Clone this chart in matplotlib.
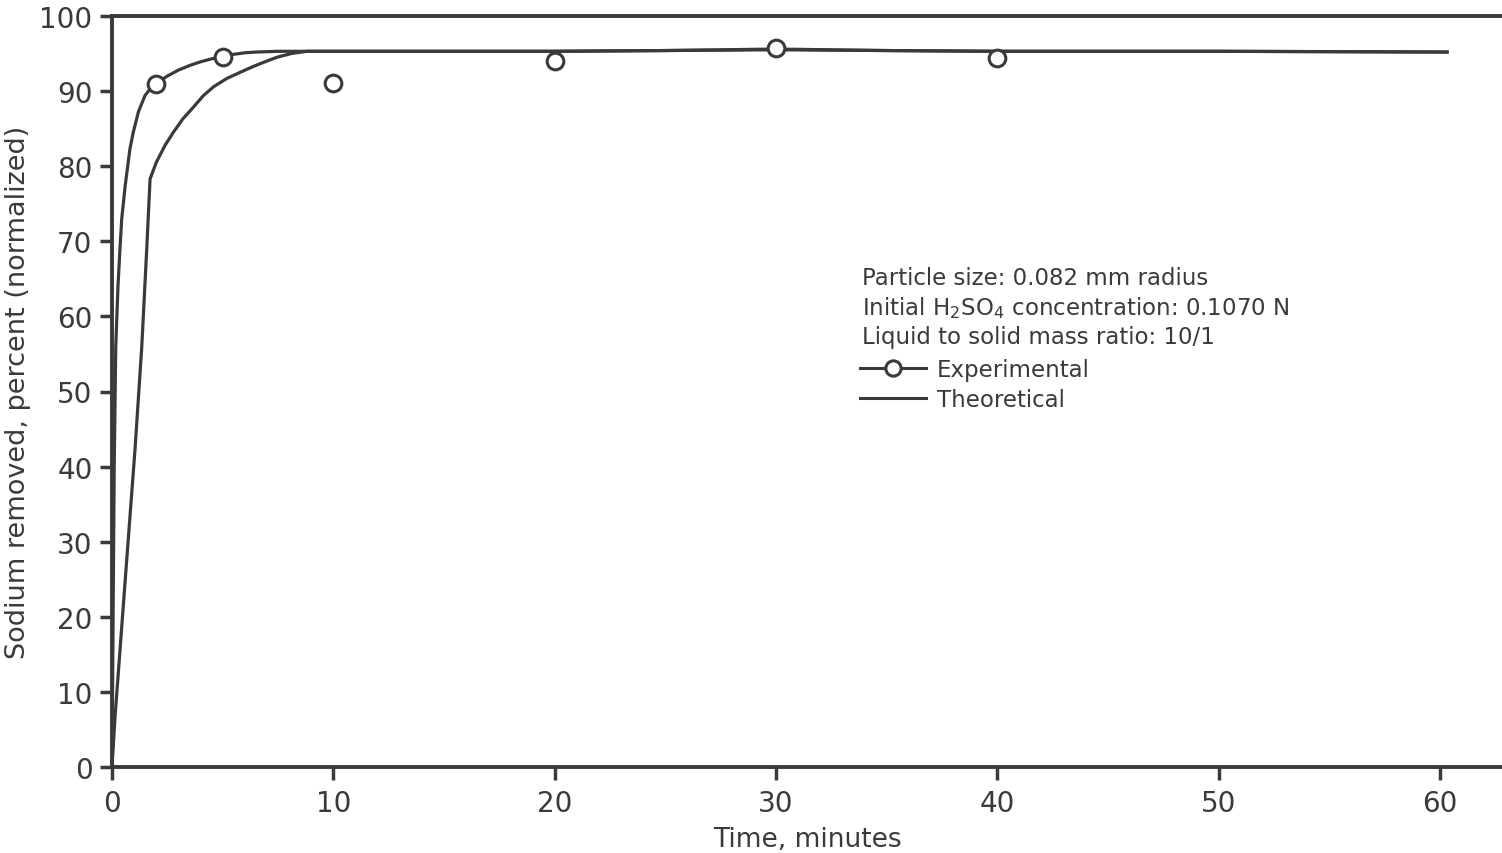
import matplotlib
matplotlib.use("Agg")
import matplotlib.pyplot as plt
from matplotlib.lines import Line2D

# measured sodium removal at each sampling time
exp_time = [2, 5, 10, 20, 30, 40]
exp_removed = [91.0, 94.6, 91.1, 94.0, 95.7, 94.4]

# smooth curve drawn through the experimental points
exp_curve_t = [0, 0.05, 0.10, 0.17, 0.27, 0.36, 0.44, 0.6, 0.81, 0.96, 1.2,
               1.49, 1.75, 2.0, 2.5, 3.0, 3.5, 4.0, 4.5, 5.0, 5.5, 6.0, 6.5,
               7.5, 10, 20, 25, 30, 35, 40, 50, 60.4]
exp_curve_y = [0, 20, 40, 56, 64, 69, 73, 77.5, 82.3, 84.5, 87.3,
               89.4, 90.4, 91.0, 92.0, 92.8, 93.4, 93.9, 94.3, 94.6, 94.9, 95.1, 95.2,
               95.3, 95.3, 95.3, 95.4, 95.6, 95.4, 95.3, 95.3, 95.2]

# model prediction
theo_t = [0, 0.14, 0.60, 1.04, 1.34, 1.57, 1.72, 2.0, 2.4, 2.77, 3.2, 3.6,
          4.13, 4.6, 5.2, 5.79, 6.4, 7.0, 7.45, 8.1, 8.8, 10, 20, 30, 40, 50, 60.4]
theo_y = [0, 6.8, 25, 42.3, 55.7, 69, 78.3, 80.5, 82.8, 84.5, 86.3, 87.6,
          89.4, 90.6, 91.7, 92.5, 93.3, 94.0, 94.5, 95.0, 95.3, 95.3, 95.3,
          95.5, 95.3, 95.3, 95.2]

x_ticks = [0, 10, 20, 30, 40, 50, 60]
y_ticks = [0, 10, 20, 30, 40, 50, 60, 70, 80, 90, 100]

ink = "#3a3a3a"
plt.rcParams["font.family"] = ["DejaVu Sans"]
plt.rcParams["text.color"] = ink

fig = plt.figure(figsize=(15.02, 8.54), dpi=100)
ax = fig.add_axes([112 / 1502, 1 - 768 / 854, 1 - 112 / 1502, (768 - 17) / 854])

ax.plot(theo_t, theo_y, color=ink, lw=2.3, solid_capstyle="butt")
ax.plot(exp_curve_t, exp_curve_y, color=ink, lw=2.3, solid_capstyle="butt")
ax.plot(exp_time, exp_removed, ls="none", marker="o", ms=12, mfc="white",
        mec=ink, mew=2.2, zorder=5)

ax.set_xlim(0, 1390 / 22.13)
ax.set_ylim(0, 100)
ax.set_xticks(x_ticks)
ax.set_yticks(y_ticks)
ax.tick_params(direction="out", length=9, width=2.5, color=ink,
               labelsize=20, labelcolor=ink, pad=5)
ax.tick_params(axis="x", pad=7)

for side in ["left", "bottom", "top"]:
    ax.spines[side].set_linewidth(2.8)
    ax.spines[side].set_color(ink)
ax.spines["right"].set_visible(False)

ax.set_xlabel("Time, minutes", fontsize=19, color=ink, labelpad=6)
ax.set_ylabel("Sodium removed, percent (normalized)", fontsize=19.5, color=ink,
              labelpad=6)

fig.text(862 / 1502, 1 - 267 / 854,
         "Particle size: 0.082 mm radius\n"
         r"Initial H$_2$SO$_4$ concentration: 0.1070 N" "\n"
         "Liquid to solid mass ratio: 10/1",
         ha="left", va="top", fontsize=16.5, linespacing=1.27, color=ink)

handles = [
    Line2D([], [], color=ink, lw=2.2, marker="o", ms=11, mfc="white",
           mec=ink, mew=2.2),
    Line2D([], [], color=ink, lw=2.2),
]
fig.legend(handles, ["Experimental", "Theoretical"], loc="upper left",
           bbox_to_anchor=(860 / 1502, 1 - 359 / 854), frameon=False,
           fontsize=16.5, handlelength=2.9, handletextpad=0.45,
           labelspacing=0.3, borderpad=0, borderaxespad=0,
           labelcolor=ink)

fig.savefig("out.png", dpi=100, facecolor="white")
